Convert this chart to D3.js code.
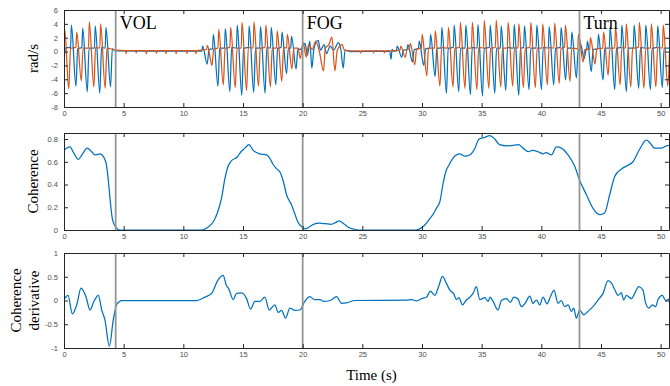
<!DOCTYPE html>
<html>
<head>
<meta charset="utf-8">
<script src="https://cdn.jsdelivr.net/npm/d3@7"></script>
<style>
  body { margin: 0; background: #fff; }
  svg { display: block; }
</style>
</head>
<body>
<svg id="chart" width="670" height="386"></svg>
<script>
// ---- data ----
const timeTicks = [0, 5, 10, 15, 20, 25, 30, 35, 40, 45, 50];
const rateTicks = [-8, -6, -4, -2, 0, 2, 4, 6];
const cohTicks = [0, 0.2, 0.4, 0.6, 0.8];
const derivTicks = [-1, -0.5, 0, 0.5, 1];

const eventTimes = [4.33, 20, 43.2];
const eventLabels = ['VOL', 'FOG', 'Turn'];

// gyro, left leg (blue) [t, rad/s]
const gyroBlue = [
  [0,-1.2],[0.12,0.5],[0.5,0.6],
  [0.55,0.5],[0.62,3.8],[1.0,-5.0],[1.15,0.4],
  [1.5,0.6],[1.57,3.4],[1.95,-5.8],[2.1,0.5],
  [2.55,0.5],[2.62,3.7],[3.0,-6.0],[3.15,0.6],
  [3.45,0.5],[3.52,3.5],[3.9,-5.1],[4.05,0.4],
  [4.3,0.1],[11.4,0.05],
  [11.55,0.1],[11.62,0.8],[12.0,-1.8],[12.15,0.3],
  [12.45,0.4],[12.52,2.5],[12.9,-5.0],[13.05,0.5],
  [13.45,0.5],[13.52,3.3],[13.9,-5.8],[14.05,0.6],
  [14.45,0.5],[14.52,3.8],[14.9,-6.3],[15.05,0.5],
  [15.45,0.6],[15.52,3.7],[15.9,-5.9],[16.05,0.5],
  [16.4,0.5],[16.47,3.6],[16.85,-6.0],[17.0,0.6],
  [17.3,0.5],[17.37,3.5],[17.75,-4.8],[17.9,0.5],
  [18.2,0.6],[18.27,2.8],[18.65,-3.2],[18.8,0.5],
  [19.0,0.5],[19.07,2.2],[19.45,-2.5],[19.6,0.4],
  [19.8,0.3],[20.2,1.2],[20.4,-0.5],[20.6,1.5],[20.77,-2.4],[20.95,0.5],
  [21.3,1.6],[21.5,0.2],[21.8,1.0],[22.0,-0.3],[22.3,0.8],[22.6,0.2],
  [23.0,1.3],[23.2,0.3],[23.4,-2.4],[23.55,0.2],[24.0,0.0],
  [27.3,0.05],[27.4,-1.1],[27.5,0.3],[27.6,0.05],
  [27.85,0.1],[27.92,0.8],[28.3,-0.8],[28.45,0.2],
  [28.75,0.3],[28.82,1.0],[29.2,-1.5],[29.35,0.3],
  [29.7,0.4],[29.77,1.5],[30.15,-2.0],[30.3,0.4],
  [30.65,0.5],[30.72,2.5],[31.1,-3.6],[31.25,0.5],
  [31.6,0.5],[31.67,3.5],[32.05,-6.0],[32.2,0.5],
  [32.63,0.6],[32.7,3.8],[33.08,-5.8],[33.23,0.5],
  [33.61,0.5],[33.68,3.8],[34.06,-6.2],[34.21,0.6],
  [34.62,0.5],[34.69,3.9],[35.07,-6.4],[35.22,0.5],
  [35.65,0.6],[35.72,3.8],[36.1,-6.0],[36.25,0.5],
  [36.57,0.5],[36.64,3.7],[37.02,-5.6],[37.17,0.6],
  [37.66,0.5],[37.73,3.9],[38.11,-6.3],[38.26,0.5],
  [38.52,0.6],[38.59,3.7],[38.97,-5.5],[39.12,0.5],
  [39.56,0.5],[39.63,3.8],[40.01,-5.5],[40.16,0.6],
  [40.59,0.5],[40.66,3.6],[41.04,-4.8],[41.19,0.5],
  [41.59,0.6],[41.66,3.5],[42.04,-4.1],[42.19,0.5],
  [42.49,0.5],[42.56,2.8],[42.94,-3.8],[43.09,0.3],
  [43.2,0.2],[43.27,1.2],[43.6,-1.0],[43.75,0.2],
  [43.8,0.3],[43.87,1.5],[44.19,-2.9],[44.34,0.3],
  [44.72,0.4],[44.79,2.5],[45.17,-4.1],[45.32,0.5],
  [45.7,0.5],[45.77,3.5],[46.15,-5.5],[46.3,0.5],
  [46.68,0.6],[46.75,3.8],[47.13,-5.8],[47.28,0.5],
  [47.71,0.5],[47.78,3.8],[48.16,-5.3],[48.31,0.6],
  [48.69,0.5],[48.76,3.8],[49.14,-5.5],[49.29,0.5],
  [49.69,0.6],[49.76,3.7],[50.14,-5.2],[50.29,0.5],
  [50.75,0.5]
];

// gyro, right leg (orange) [t, rad/s]
const gyroOrange = [
  [0,1.5],[0.05,3.4],[0.4,-5.4],[0.55,0.5],
  [1.0,0.6],[1.07,2.8],[1.45,-4.2],[1.6,0.5],
  [2.05,0.5],[2.12,4.3],[2.5,-5.1],[2.65,0.6],
  [3.0,0.5],[3.07,4.0],[3.45,-5.3],[3.6,0.5],
  [4.1,0.3],[4.3,0.2],
  [5.15,0.15],[5.2,-0.3],[5.25,0.15],[6.0,0.15],[6.05,-0.2],[6.1,0.15],
  [6.85,0.15],[6.9,-0.35],[6.95,0.15],[7.7,0.15],[7.75,-0.25],[7.8,0.15],
  [8.5,0.15],[8.55,-0.3],[8.6,0.15],[9.35,0.15],[9.4,-0.3],[9.45,0.15],
  [10.25,0.15],[10.3,-0.25],[10.35,0.15],[11.0,0.15],[11.05,-0.3],[11.1,0.15],
  [11.95,0.3],[12.02,0.9],[12.4,-2.0],[12.55,0.4],
  [12.9,0.5],[12.97,3.2],[13.35,-4.8],[13.5,0.5],
  [13.9,0.6],[13.97,3.5],[14.35,-5.2],[14.5,0.5],
  [14.85,0.5],[14.92,4.2],[15.3,-5.6],[15.45,0.6],
  [15.85,0.5],[15.92,4.3],[16.3,-5.0],[16.45,0.5],
  [16.85,0.6],[16.92,3.8],[17.3,-5.1],[17.45,0.5],
  [17.8,0.5],[17.87,3.0],[18.25,-4.3],[18.4,0.6],
  [18.65,0.5],[18.72,2.5],[19.1,-2.5],[19.25,0.5],
  [19.6,0.5],[19.8,-1.0],[20.05,1.3],[20.3,-0.8],[20.5,1.0],[20.8,0.3],
  [21.1,1.5],[21.4,0.0],[21.75,-2.8],[21.9,0.5],[22.2,1.0],[22.45,2.1],
  [22.7,-2.8],[22.9,0.2],[23.3,1.0],[23.5,0.2],[24.0,0.1],
  [24.8,0.1],[24.85,-0.2],[24.9,0.1],[25.9,0.1],[25.95,-0.15],[26.0,0.1],
  [26.8,0.1],[26.85,-0.2],[26.9,0.1],[27.6,0.1],
  [28.15,0.2],[28.22,0.8],[28.6,-0.8],[28.75,0.3],
  [28.95,0.4],[29.02,1.2],[29.4,-1.9],[29.55,0.4],
  [29.95,0.5],[30.02,2.5],[30.4,-3.5],[30.55,0.5],
  [31.05,0.5],[31.12,3.0],[31.5,-5.0],[31.65,0.6],
  [32.15,0.5],[32.22,3.5],[32.6,-5.1],[32.75,0.5],
  [33.15,0.6],[33.22,4.2],[33.6,-5.3],[33.75,0.5],
  [34.15,0.5],[34.22,4.2],[34.6,-5.5],[34.75,0.6],
  [35.15,0.5],[35.22,4.5],[35.6,-5.3],[35.75,0.5],
  [36.15,0.6],[36.22,4.5],[36.6,-5.1],[36.75,0.5],
  [37.15,0.5],[37.22,4.2],[37.6,-5.0],[37.75,0.6],
  [38.05,0.5],[38.12,4.0],[38.5,-5.2],[38.65,0.5],
  [39.05,0.6],[39.12,4.2],[39.5,-5.2],[39.65,0.5],
  [40.05,0.5],[40.12,4.0],[40.5,-4.8],[40.65,0.6],
  [41.05,0.5],[41.12,4.1],[41.5,-4.6],[41.65,0.5],
  [41.95,0.6],[42.02,3.8],[42.4,-4.3],[42.55,0.5],
  [43.05,0.4],[43.12,2.5],[43.5,-1.5],[43.65,0.3],
  [44.05,0.3],[44.12,2.0],[44.5,-1.8],[44.65,0.4],
  [45.15,0.5],[45.22,2.8],[45.6,-3.4],[45.75,0.5],
  [46.15,0.5],[46.22,3.5],[46.6,-4.8],[46.75,0.6],
  [47.05,0.5],[47.12,4.0],[47.5,-5.1],[47.65,0.5],
  [48.15,0.6],[48.22,4.2],[48.6,-5.3],[48.75,0.5],
  [49.15,0.5],[49.22,4.0],[49.6,-5.1],[49.75,0.6],
  [50.15,0.5],[50.22,3.8],[50.6,-5.0],[50.75,0.2]
];

// coherence [t, value]
const coherence = [
  [0,0.70],[0.5,0.73],[0.8,0.68],[1.2,0.62],[1.5,0.66],[1.95,0.72],[2.3,0.69],
  [2.6,0.66],[3.0,0.67],[3.2,0.66],[3.5,0.60],[3.65,0.50],[3.8,0.34],[3.95,0.18],
  [4.05,0.10],[4.3,0.03],[4.7,0.0],[11.5,0.0],[12.0,0.02],[12.5,0.07],[12.85,0.15],
  [13.2,0.28],[13.48,0.45],[13.75,0.56],[14.04,0.61],[14.5,0.64],[14.85,0.69],
  [15.16,0.72],[15.5,0.75],[15.86,0.70],[16.4,0.67],[16.97,0.66],[17.25,0.63],
  [17.5,0.58],[17.8,0.54],[18.1,0.51],[18.4,0.42],[18.65,0.31],[19.07,0.22],
  [19.35,0.14],[19.6,0.07],[19.9,0.03],[20.2,0.01],[20.46,0.02],[20.9,0.05],
  [21.4,0.06],[21.9,0.055],[22.4,0.05],[22.75,0.065],[23.06,0.08],[23.5,0.05],
  [23.9,0.02],[24.2,0.01],[24.7,0.0],[29.5,0.0],[29.8,0.01],[30.2,0.04],
  [30.65,0.10],[31.0,0.15],[31.2,0.19],[31.5,0.25],[31.77,0.41],[32.05,0.53],
  [32.2,0.56],[32.75,0.65],[33.17,0.67],[33.6,0.65],[34.0,0.66],[34.4,0.71],
  [34.78,0.80],[35.26,0.815],[35.68,0.83],[36.1,0.80],[36.5,0.75],[37.08,0.74],
  [37.6,0.745],[38.1,0.75],[38.47,0.72],[38.9,0.69],[39.25,0.70],[39.7,0.69],
  [40.15,0.67],[40.4,0.68],[40.85,0.66],[41.26,0.73],[41.68,0.72],[42.24,0.66],
  [42.8,0.56],[43.2,0.44],[43.78,0.31],[44.33,0.19],[44.9,0.135],[45.3,0.15],
  [45.73,0.31],[46.15,0.47],[46.7,0.535],[47.26,0.57],[47.68,0.60],[48.24,0.71],
  [48.8,0.79],[49.08,0.77],[49.5,0.72],[50.06,0.72],[50.47,0.74],[50.75,0.745]
];

// coherence derivative [t, value]
const coherenceDeriv = [
  [0,0.02],[0.34,0.11],[0.7,-0.28],[1.1,-0.06],[1.42,0.26],[1.84,0.08],[2.18,-0.2],
  [2.5,-0.02],[2.88,0.11],[3.16,-0.2],[3.43,-0.41],[3.8,-0.96],[4.13,-0.41],
  [4.4,-0.09],[4.83,0.0],[11.1,0.0],[11.8,0.07],[12.37,0.15],[12.9,0.43],
  [13.34,0.53],[13.6,0.32],[13.8,0.25],[14.18,0.02],[14.46,0.15],[14.88,0.16],
  [15.3,0.04],[15.63,-0.18],[16.0,-0.02],[16.4,-0.02],[16.83,0.07],[17.2,-0.2],
  [17.67,-0.09],[17.95,-0.25],[18.23,-0.21],[18.57,-0.37],[18.93,-0.16],
  [19.35,-0.21],[19.77,-0.2],[20.18,-0.02],[20.6,0.08],[21.0,0.02],[21.44,0.02],
  [21.78,-0.02],[22.3,0.0],[22.84,0.08],[23.26,-0.06],[23.67,-0.05],[24.37,0.0],
  [28.7,0.01],[29.12,0.02],[29.54,-0.01],[29.96,0.04],[30.38,0.07],[30.71,0.2],
  [31.07,0.11],[31.43,0.32],[31.71,0.51],[32.05,0.36],[32.33,0.22],[32.66,0.14],
  [32.89,0.02],[33.1,0.06],[33.39,-0.09],[33.72,0.01],[34.06,0.08],[34.28,0.15],
  [34.56,0.29],[34.84,0.02],[35.26,0.06],[35.54,-0.02],[35.7,0.07],[35.96,-0.02],
  [36.37,-0.2],[36.66,0.0],[37.08,0.04],[37.41,-0.04],[37.69,0.07],[38.05,0.03],
  [38.33,-0.13],[38.69,-0.04],[39.03,0.09],[39.3,-0.06],[39.59,0.01],[39.87,-0.09],
  [40.14,0.07],[40.48,-0.07],[40.76,0.08],[41.06,0.22],[41.4,-0.06],[41.68,0.0],
  [41.96,-0.13],[42.24,-0.09],[42.52,-0.23],[42.71,-0.16],[42.94,-0.37],
  [43.22,-0.2],[43.55,-0.3],[43.91,-0.23],[44.33,-0.13],[44.75,0.01],[45.17,0.15],
  [45.59,0.42],[45.87,0.37],[46.15,0.23],[46.43,0.11],[46.71,0.16],[46.9,0.01],
  [47.13,0.11],[47.55,0.04],[47.83,0.15],[48.16,0.29],[48.52,0.22],[48.74,-0.05],
  [49.02,-0.16],[49.3,-0.09],[49.58,-0.13],[49.78,0.02],[50.14,0.11],[50.42,0.0],
  [50.75,0.04]
];

// ---- drawing ----
const blue = '#0072BD';
const orange = '#D95319';
const axisColor = '#262626';
const serif = '"Liberation Serif", "DejaVu Serif", serif';
const sans = '"Liberation Sans", Arial, sans-serif';

const svg = d3.select('#chart');
const left = 64, right = 669;

const x = d3.scaleLinear().domain([0, 50.7]).range([left, right]);

const panels = [
  { top: 10, bottom: 107, domain: [-8, 6], ticks: rateTicks,
    series: [[gyroBlue, blue], [gyroOrange, orange]],
    labels: ['rad/s'], labelX: [38], events: true },
  { top: 133, bottom: 230, domain: [0, 0.853], ticks: cohTicks,
    series: [[coherence, blue]],
    labels: ['Coherence'], labelX: [38] },
  { top: 253, bottom: 348, domain: [-1, 1], ticks: derivTicks,
    series: [[coherenceDeriv, blue]],
    labels: ['Coherence', 'derivative'], labelX: [21, 39] }
];

panels.forEach((p, i) => {
  const y = d3.scaleLinear().domain(p.domain).range([p.bottom, p.top]);
  const g = svg.append('g');

  g.append('clipPath').attr('id', 'clip' + i)
    .append('rect')
    .attr('x', left).attr('y', p.top)
    .attr('width', right - left).attr('height', p.bottom - p.top);

  const line = d3.line()
    .x(d => x(d[0]))
    .y(d => y(d[1]))
    .curve(d3.curveMonotoneX);

  p.series.forEach(([data, color]) => {
    g.append('path')
      .datum(data)
      .attr('clip-path', `url(#clip${i})`)
      .attr('fill', 'none')
      .attr('stroke', color)
      .attr('stroke-width', 1.25)
      .attr('stroke-linejoin', 'round')
      .attr('d', line);
  });

  // event markers
  g.selectAll('.evt')
    .data(eventTimes)
    .enter()
    .append('line')
    .attr('x1', d => x(d)).attr('x2', d => x(d))
    .attr('y1', p.top).attr('y2', p.bottom)
    .attr('stroke', '#969696')
    .attr('stroke-width', 1.8);

  if (p.events) {
    g.selectAll('.evtLabel')
      .data(eventTimes)
      .enter()
      .append('text')
      .attr('x', d => x(d) + 4)
      .attr('y', p.top + 19)
      .style('font-family', serif)
      .style('font-size', '18px')
      .attr('fill', '#000')
      .text((d, k) => eventLabels[k]);
  }

  // axes box with inward ticks
  const styleAxis = sel => {
    sel.select('.domain').attr('stroke', axisColor).attr('stroke-width', 1);
    sel.selectAll('.tick line').attr('stroke', axisColor).attr('stroke-width', 1);
    sel.selectAll('.tick text')
      .style('font-family', sans)
      .style('font-size', '7.5px')
      .attr('fill', '#4d4d4d');
  };

  g.append('g')
    .attr('transform', `translate(0,${p.bottom})`)
    .call(d3.axisBottom(x).tickValues(timeTicks).tickSizeInner(-4).tickSizeOuter(0).tickPadding(4).tickFormat(d3.format('d')))
    .call(styleAxis);

  g.append('g')
    .attr('transform', `translate(0,${p.top})`)
    .call(d3.axisTop(x).tickValues(timeTicks).tickSizeInner(-4).tickSizeOuter(0).tickFormat(''))
    .call(styleAxis);

  g.append('g')
    .attr('transform', `translate(${left},0)`)
    .call(d3.axisLeft(y).tickValues(p.ticks).tickSizeInner(-4).tickSizeOuter(0).tickPadding(6).tickFormat(d => String(d)))
    .call(styleAxis);

  g.append('g')
    .attr('transform', `translate(${right},0)`)
    .call(d3.axisRight(y).tickValues(p.ticks).tickSizeInner(-4).tickSizeOuter(0).tickFormat(''))
    .call(styleAxis);

  // y axis title
  const cy = (p.top + p.bottom) / 2;
  p.labels.forEach((txt, k) => {
    svg.append('text')
      .attr('transform', `translate(${p.labelX[k]},${cy}) rotate(-90)`)
      .attr('text-anchor', 'middle')
      .style('font-family', serif)
      .style('font-size', '15px')
      .attr('fill', '#000')
      .text(txt);
  });
});

svg.append('text')
  .attr('x', (left + right) / 2 + 5)
  .attr('y', 380)
  .attr('text-anchor', 'middle')
  .style('font-family', serif)
  .style('font-size', '15px')
  .attr('fill', '#000')
  .text('Time (s)');
</script>
</body>
</html>
